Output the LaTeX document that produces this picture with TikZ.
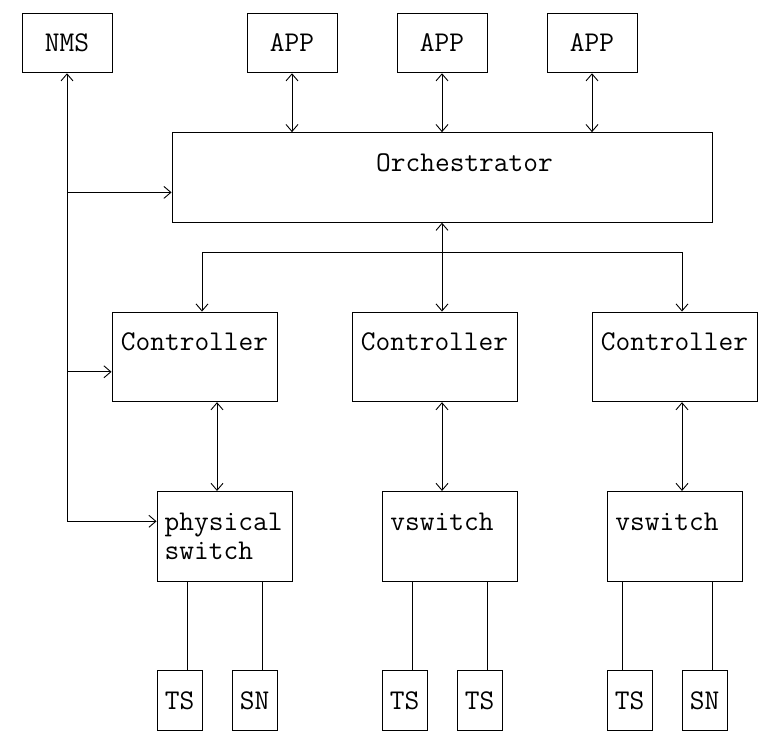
\documentclass[tikz,border=0pt]{standalone}
\usepackage{fontspec}
\usetikzlibrary{arrows.meta,fit}

\tikzset{
  box/.style={draw, line width=0.9pt, inner sep=0pt},
  lbl/.style={font=\ttfamily\fontsize{28.6}{30}\selectfont, inner sep=0pt, text height=17.5pt, text depth=0pt},
  link/.style={line width=0.9pt},
}

\begin{document}
\begin{tikzpicture}[x=15pt, y=-29.9pt, >={Straight Barb[length=7pt,width=12pt]}]
    \useasboundingbox (-1.467,-0.435) rectangle (49.333,24.247);

    % Top row: NMS and applications
    \node[box, fit={(0,0) (6,2)}] (nms) {};
    \node[lbl] (nms-t) at (nms) {NMS};
    \node[box, fit={(15,0) (21,2)}] (app1) {};
    \node[lbl] (app1-t) at (app1) {APP};
    \node[box, fit={(25,0) (31,2)}] (app2) {};
    \node[lbl] (app2-t) at (app2) {APP};
    \node[box, fit={(35,0) (41,2)}] (app3) {};
    \node[lbl] (app3-t) at (app3) {APP};

    % Orchestrator
    \node[box, fit={(10,4) (46,7)}] (orch) {};
    \node[lbl] (orch-t) at (29.5,5) {Orchestrator};

    % Controllers
    \node[box, fit={(6,10) (17,13)}] (ctl1) {};
    \node[lbl] (ctl1-t) at (11.5,11) {Controller};
    \node[box, fit={(22,10) (33,13)}] (ctl2) {};
    \node[lbl] (ctl2-t) at (27.5,11) {Controller};
    \node[box, fit={(38,10) (49,13)}] (ctl3) {};
    \node[lbl] (ctl3-t) at (43.5,11) {Controller};

    % Switches
    \node[box, fit={(9,16) (18,19)}] (psw) {};
    \node[lbl, anchor=west] (psw-t1) at (9.5,17) {physical};
    \node[lbl, anchor=west] (psw-t2) at (9.5,18) {switch};
    \node[box, fit={(24,16) (33,19)}] (vsw1) {};
    \node[lbl] (vsw1-t) at (28,17) {vswitch};
    \node[box, fit={(39,16) (48,19)}] (vsw2) {};
    \node[lbl] (vsw2-t) at (43,17) {vswitch};

    % End devices
    \node[box, fit={(9,22) (12,24)}] (ts1) {};
    \node[lbl] (ts1-t) at (ts1) {TS};
    \node[box, fit={(14,22) (17,24)}] (sn1) {};
    \node[lbl] (sn1-t) at (sn1) {SN};
    \node[box, fit={(24,22) (27,24)}] (ts2) {};
    \node[lbl] (ts2-t) at (ts2) {TS};
    \node[box, fit={(29,22) (32,24)}] (ts3) {};
    \node[lbl] (ts3-t) at (ts3) {TS};
    \node[box, fit={(39,22) (42,24)}] (ts4) {};
    \node[lbl] (ts4-t) at (ts4) {TS};
    \node[box, fit={(44,22) (47,24)}] (sn2) {};
    \node[lbl] (sn2-t) at (sn2) {SN};

    % NMS links
    \coordinate (n1) at (3,6);
    \coordinate (n2) at (3,12);
    \coordinate (n3) at (3,17);
    \draw[link, ->] (n3) -- (nms.south);
    \draw[link, ->] (n1) -- (n1 -| orch.west);
    \draw[link, ->] (n2) -- (n2 -| ctl1.west);
    \draw[link, ->] (n3) -- (n3 -| psw.west);

    % Applications to orchestrator
    \foreach \a in {app1,app2,app3}
        \draw[link, <->] (\a.south) -- (\a.south |- orch.north);

    % Orchestrator to controllers
    \coordinate (b1) at (12,8);
    \coordinate (b2) at (28,8);
    \coordinate (b3) at (44,8);
    \draw[link] (b1) -- (b3);
    \draw[link, ->] (b2) -- (orch.south);
    \draw[link, ->] (b1) -- (b1 |- ctl1.north);
    \draw[link, ->] (b2) -- (b2 |- ctl2.north);
    \draw[link, ->] (b3) -- (b3 |- ctl3.north);

    % Controllers to switches
    \draw[link, <->] (ctl1.south -| 13,0) -- (psw.north -| 13,0);
    \draw[link, <->] (ctl2.south -| b2) -- (vsw1.north -| b2);
    \draw[link, <->] (ctl3.south -| b3) -- (vsw2.north -| b3);

    % Switches to end devices
    \foreach \s/\e/\c in {psw/ts1/11, psw/sn1/16, vsw1/ts2/26, vsw1/ts3/31, vsw2/ts4/40, vsw2/sn2/46}
        \draw[link] (\s.south -| \c,0) -- (\e.north -| \c,0);

\end{tikzpicture}
\end{document}
